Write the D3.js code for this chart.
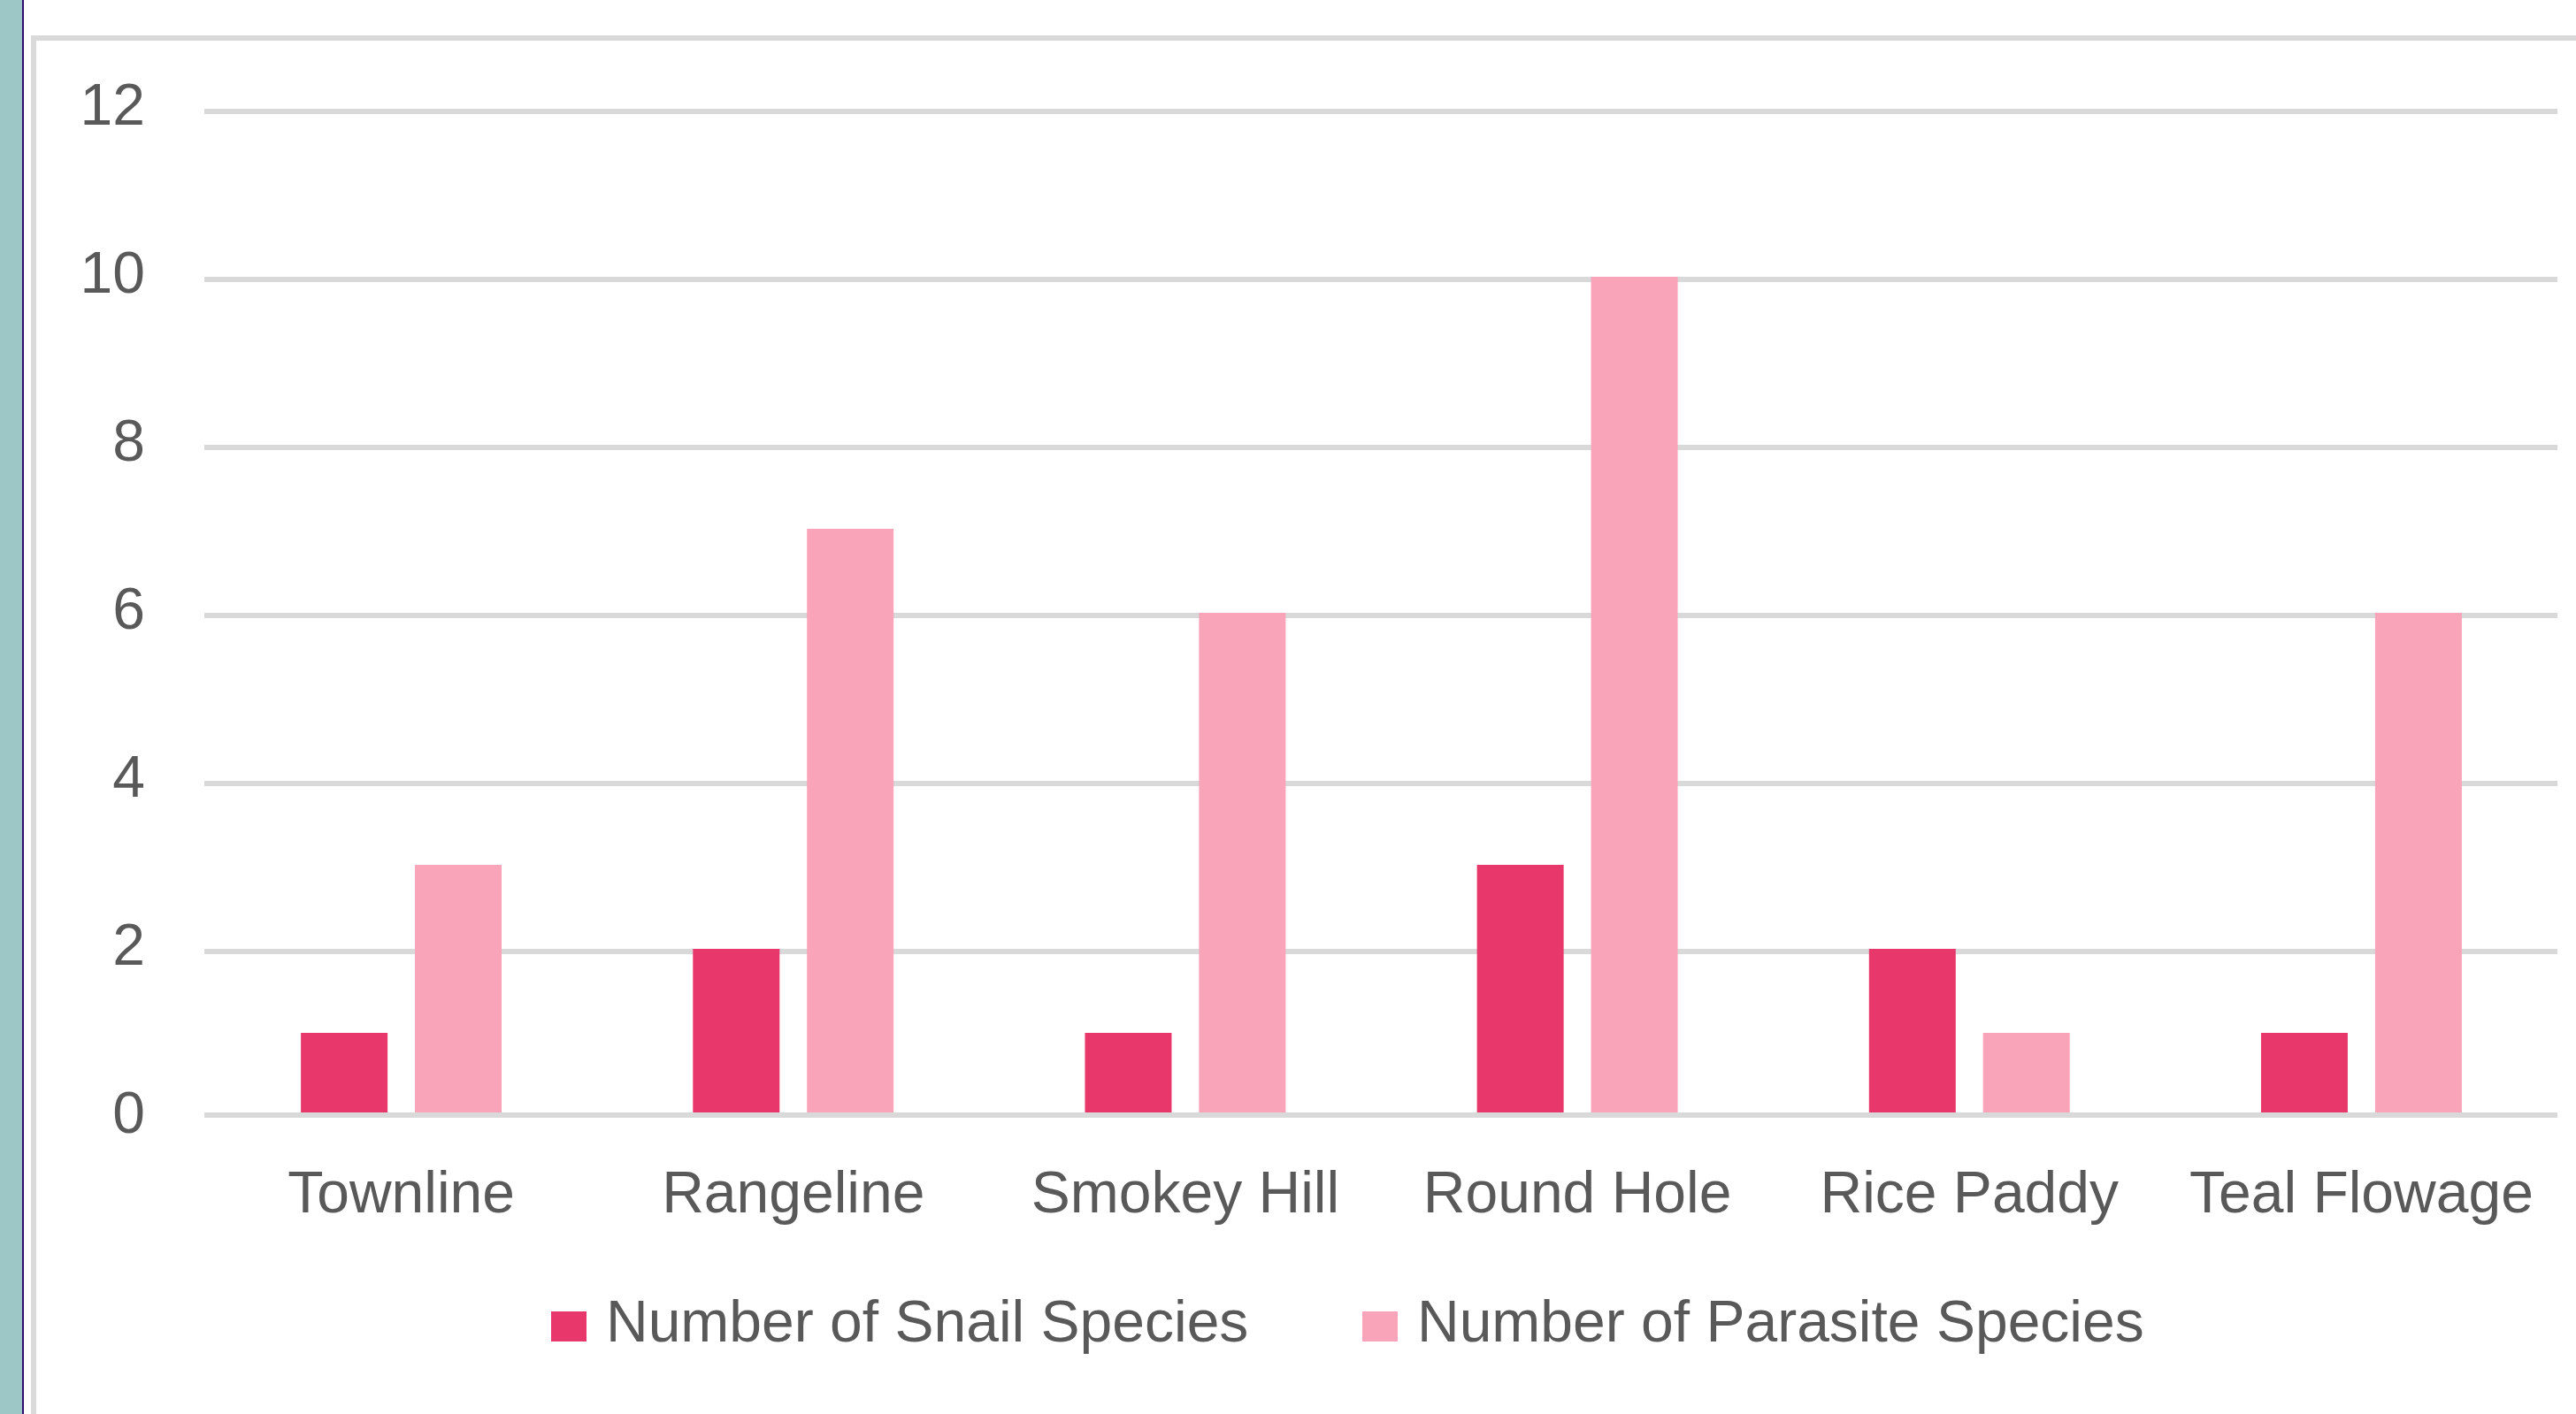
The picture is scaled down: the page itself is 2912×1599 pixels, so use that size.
<!DOCTYPE html>
<html>
<head>
<meta charset="utf-8">
<script src="https://cdn.jsdelivr.net/npm/d3@7"></script>
<style>
  body { margin: 0; background: #ffffff; }
  svg { display: block; }
  .tick-label, .cat-label, .legend-label {
    font-family: "Liberation Sans", Arial, sans-serif;
    font-size: 66px;
    fill: #595959;
  }
</style>
</head>
<body>
<svg id="chart"></svg>
<script>
// DATA
const categories = ["Townline", "Rangeline", "Smokey Hill", "Round Hole", "Rice Paddy", "Teal Flowage"];
const snailSpecies = [1, 2, 1, 3, 2, 1];
const parasiteSpecies = [3, 7, 6, 10, 1, 6];
const seriesNames = ["Number of Snail Species", "Number of Parasite Species"];
const seriesColors = ["#E8376A", "#F9A4B9"];
const yTicks = [0, 2, 4, 6, 8, 10, 12];

// GLOBAL DECLARATIONS
let svg;
let width = 2912;
let height = 1599;
let plotLeft = 232;
let plotRight = 2891;
let x0;
let x1;
let y;

setupPage();
drawGridAndAxes();
drawBars();
drawLegend();

function setupPage(){
  svg = d3.select("#chart")
    .attr("width", width)
    .attr("height", height);

  // teal strip on the left edge of the screenshot
  svg.append("rect")
    .attr("x", 0).attr("y", 0)
    .attr("width", 25).attr("height", height)
    .attr("fill", "#9CC7C6");
  svg.append("rect")
    .attr("x", 25).attr("y", 0)
    .attr("width", 2).attr("height", height)
    .attr("fill", "#2E0E6E");

  // chart area border (runs off the right and bottom)
  svg.append("rect")
    .attr("x", 38).attr("y", 43)
    .attr("width", 3000).attr("height", 1700)
    .attr("fill", "none")
    .attr("stroke", "#D9D9D9")
    .attr("stroke-width", 6);

  x0 = d3.scaleBand()
    .domain(categories)
    .range([plotLeft, plotRight])
    .paddingInner(0.488)
    .paddingOuter(0.244);

  x1 = d3.scaleBand()
    .domain(seriesNames)
    .range([0, x0.bandwidth()])
    .paddingInner(0.24);

  y = d3.scaleLinear()
    .domain([0, 12])
    .range([1263, 123]);
}

function drawGridAndAxes(){
  // horizontal gridlines
  svg.append("g")
    .selectAll("line")
    .data(yTicks.filter(d => d > 0))
    .join("line")
    .attr("x1", plotLeft - 1)
    .attr("x2", plotRight)
    .attr("y1", d => y(d) + 3)
    .attr("y2", d => y(d) + 3)
    .attr("stroke", "#D9D9D9")
    .attr("stroke-width", 6);

  // y tick labels
  const yAxis = svg.append("g")
    .attr("transform", "translate(164,0)")
    .call(d3.axisLeft(y).tickValues(yTicks).tickSize(0).tickPadding(0));
  yAxis.select(".domain").remove();
  yAxis.selectAll("text")
    .attr("class", "tick-label")
    .attr("x", 0)
    .attr("dy", null)
    .attr("y", 17)
    .attr("text-anchor", "end")
    .attr("font-family", null)
    .attr("font-size", null)
    .attr("fill", null);

  // category labels
  const xAxis = svg.append("g")
    .attr("transform", "translate(0,0)")
    .call(d3.axisBottom(x0).tickSize(0).tickPadding(0));
  xAxis.select(".domain").remove();
  xAxis.selectAll("text")
    .attr("class", "cat-label")
    .attr("y", 1371)
    .attr("dy", null)
    .attr("text-anchor", "middle")
    .attr("font-family", null)
    .attr("font-size", null)
    .attr("fill", null);
}

function drawBars(){
  let rows = categories.map(function(c, i){
    return {category: c, values: [snailSpecies[i], parasiteSpecies[i]]};
  });

  let groups = svg.append("g")
    .selectAll("g")
    .data(rows)
    .join("g")
    .attr("transform", d => `translate(${x0(d.category)},0)`);

  groups.selectAll("rect")
    .data(d => d.values.map((v, j) => ({series: seriesNames[j], value: v, color: seriesColors[j]})))
    .join("rect")
    .attr("x", d => x1(d.series))
    .attr("width", x1.bandwidth())
    .attr("y", d => y(d.value))
    .attr("height", d => y(0) - y(d.value))
    .attr("fill", d => d.color);

  // horizontal axis line sits over the bar bottoms
  svg.append("line")
    .attr("x1", plotLeft - 1)
    .attr("x2", plotRight)
    .attr("y1", y(0) - 2)
    .attr("y2", y(0) - 2)
    .attr("stroke", "#D9D9D9")
    .attr("stroke-width", 6);
}

function drawLegend(){
  const legendX = [623, 1540];
  const legend = svg.append("g");

  let items = legend.selectAll("g")
    .data(seriesNames)
    .join("g")
    .attr("transform", (d, i) => `translate(${legendX[i]},0)`);

  items.append("rect")
    .attr("x", 0)
    .attr("y", 1483)
    .attr("width", 40)
    .attr("height", 34)
    .attr("fill", (d, i) => seriesColors[i]);

  items.append("text")
    .attr("class", "legend-label")
    .attr("x", 62)
    .attr("y", 1517)
    .text(d => d);
}
</script>
</body>
</html>
